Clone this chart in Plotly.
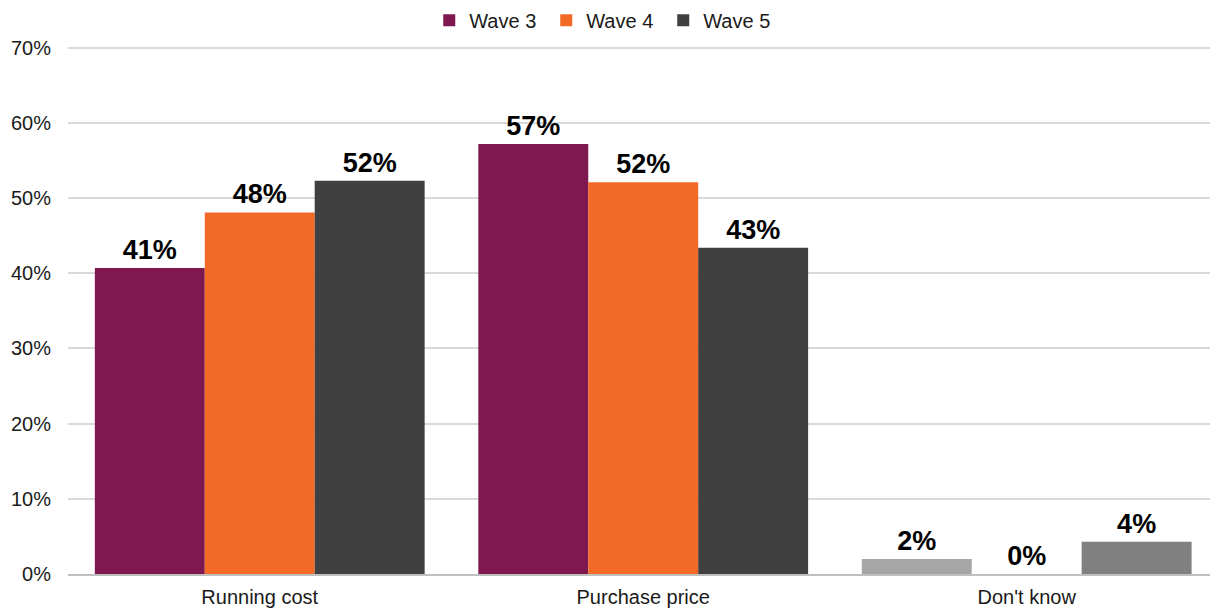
import plotly.graph_objects as go

categories = ["Running cost", "Purchase price", "Don't know"]
series_names = ["Wave 3", "Wave 4", "Wave 5"]
wave3 = [40.7, 57.2, 2.0]
wave4 = [48.1, 52.1, 0.0]
wave5 = [52.3, 43.4, 4.3]
y_ticks = [0, 10, 20, 30, 40, 50, 60, 70]
y_tick_labels = ["0%", "10%", "20%", "30%", "40%", "50%", "60%", "70%"]

legend_colors = ["#7f1850", "#f26a25", "#404040"]
bar_colors = [
    ["#7f1850", "#7f1850", "#a6a6a6"],
    ["#f26a25", "#f26a25", "#bfbfbf"],
    ["#404040", "#404040", "#808080"],
]

FONT = "Liberation Sans, Arial"

fig = go.Figure()
for name, vals, bc in zip(series_names, [wave3, wave4, wave5], bar_colors):
    fig.add_trace(go.Bar(
        x=categories, y=vals, name=name,
        marker=dict(color=bc, line=dict(width=0)),
        texttemplate="%{y:.0f}%", textposition="outside",
        textfont=dict(family=FONT, size=27, color="#000000", weight="bold"),
        cliponaxis=False,
        showlegend=False,
    ))

# legend entries drawn with each series' main colour
for name, lc in zip(series_names, legend_colors):
    fig.add_trace(go.Scatter(
        x=[None], y=[None], name=name, mode="markers",
        marker=dict(symbol="square", size=12, color=lc),
        showlegend=True,
    ))

fig.update_layout(
    width=1213, height=610,
    margin=dict(l=68, r=3, t=44, b=36, autoexpand=False),
    barmode="group", bargap=0.14, bargroupgap=0,
    plot_bgcolor="white", paper_bgcolor="white",
    font=dict(family=FONT, size=20, color="#1a1a1a"),
    legend=dict(orientation="h", x=0.47, xanchor="center",
                y=1.045, yanchor="middle",
                font=dict(size=20, color="#1a1a1a"), itemwidth=30,
                entrywidth=72, entrywidthmode="pixels",
                traceorder="normal", tracegroupgap=0),
    yaxis=dict(range=[0, 70.5], tickvals=y_ticks, ticktext=y_tick_labels,
               showgrid=True, gridcolor="#d9d9d9", gridwidth=1.5,
               zeroline=False, showline=False, ticks="", ticklabelstandoff=16,
               tickfont=dict(size=20, color="#1a1a1a")),
    xaxis=dict(range=[-0.5, 2.478], showline=True, linecolor="#bfbfbf", linewidth=1.5,
               ticks="", ticklabelstandoff=4,
               tickfont=dict(size=20, color="#1a1a1a")),
)

fig.write_html("out.html")
